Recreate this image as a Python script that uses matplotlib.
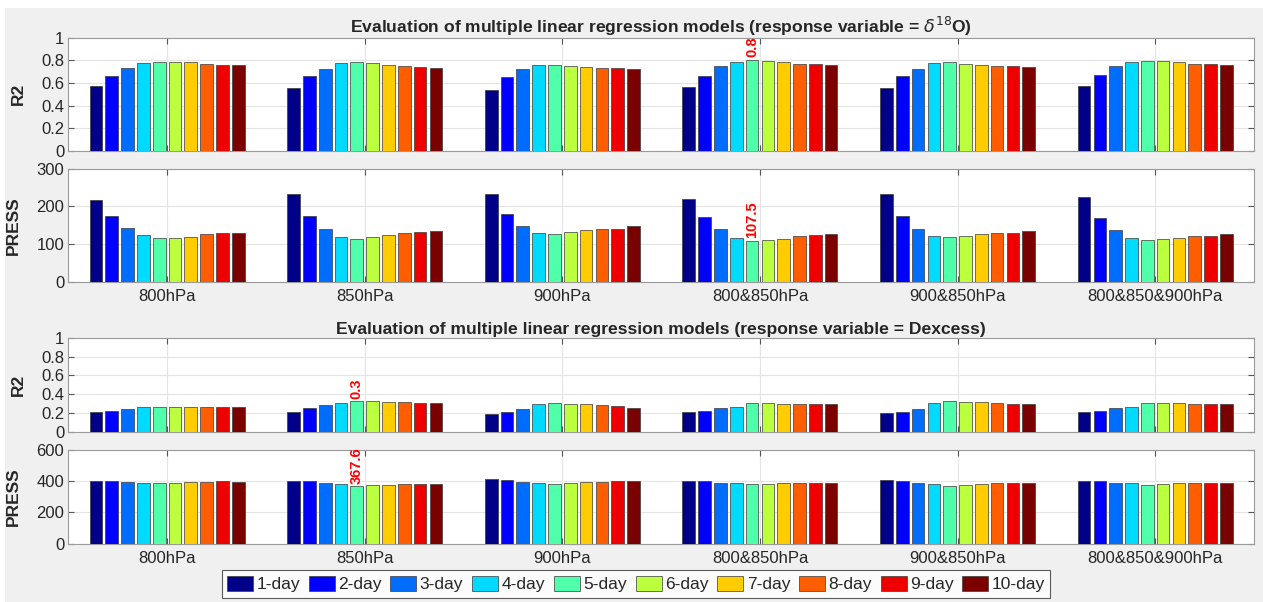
import numpy as np
import matplotlib
matplotlib.use('Agg')
import matplotlib.pyplot as plt
from matplotlib.patches import Rectangle

plt.rcParams['font.family'] = ['Liberation Sans', 'DejaVu Sans']

# levels and lag days
levels = ['800hPa', '850hPa', '900hPa', '800&850hPa', '900&850hPa', '800&850&900hPa']
days = ['1-day', '2-day', '3-day', '4-day', '5-day', '6-day', '7-day', '8-day', '9-day', '10-day']
colors = ['#000088', '#0000FF', '#006DFF', '#00DAFF', '#50FFAA', '#BBFF3F',
          '#FFCC00', '#FF5E00', '#EE0000', '#7B0000']

# d18O models
r2_d18o = [
    [0.572, 0.658, 0.735, 0.773, 0.788, 0.788, 0.785, 0.767, 0.758, 0.758],
    [0.558, 0.658, 0.726, 0.776, 0.782, 0.773, 0.761, 0.746, 0.740, 0.735],
    [0.540, 0.649, 0.720, 0.758, 0.758, 0.749, 0.740, 0.735, 0.729, 0.726],
    [0.566, 0.664, 0.746, 0.788, 0.802, 0.794, 0.788, 0.770, 0.767, 0.758],
    [0.552, 0.658, 0.726, 0.773, 0.782, 0.767, 0.758, 0.752, 0.746, 0.740],
    [0.572, 0.670, 0.746, 0.788, 0.796, 0.791, 0.782, 0.770, 0.767, 0.758],
]
press_d18o = [
    [217.7, 173.5, 143.4, 123.9, 116.8, 115.0, 118.6, 126.5, 130.0, 130.0],
    [231.9, 173.5, 140.7, 117.7, 113.3, 119.5, 123.0, 130.0, 132.7, 135.4],
    [231.9, 180.5, 146.9, 128.3, 127.4, 132.7, 138.0, 140.7, 140.7, 146.9],
    [220.4, 171.7, 138.9, 115.9, 107.5, 109.7, 114.2, 122.1, 124.8, 126.5],
    [231.9, 174.3, 140.7, 120.4, 117.7, 121.2, 125.7, 130.0, 130.0, 135.4],
    [225.7, 169.9, 137.2, 115.9, 110.6, 112.4, 115.9, 122.1, 122.1, 125.7],
]

# Dexcess models
r2_dex = [
    [0.216, 0.226, 0.244, 0.261, 0.261, 0.269, 0.269, 0.261, 0.261, 0.261],
    [0.216, 0.251, 0.290, 0.311, 0.330, 0.325, 0.322, 0.314, 0.307, 0.307],
    [0.194, 0.212, 0.244, 0.293, 0.311, 0.300, 0.293, 0.286, 0.279, 0.251],
    [0.216, 0.226, 0.251, 0.261, 0.304, 0.304, 0.300, 0.293, 0.293, 0.293],
    [0.205, 0.216, 0.244, 0.304, 0.325, 0.318, 0.314, 0.304, 0.300, 0.293],
    [0.212, 0.226, 0.251, 0.261, 0.307, 0.304, 0.304, 0.300, 0.293, 0.293],
]
press_dex = [
    [403.8, 403.8, 395.0, 388.9, 386.8, 391.0, 395.0, 397.4, 399.6, 397.4],
    [403.8, 399.6, 391.0, 382.5, 367.6, 376.0, 376.0, 382.5, 382.5, 382.5],
    [414.5, 408.0, 397.4, 388.9, 384.6, 388.9, 393.2, 397.4, 401.7, 401.7],
    [403.8, 403.8, 391.0, 386.8, 382.5, 384.6, 386.8, 391.0, 391.0, 391.0],
    [410.3, 403.8, 391.0, 382.5, 371.0, 376.0, 382.5, 386.8, 391.0, 391.0],
    [403.8, 403.8, 391.0, 386.8, 378.2, 382.5, 386.8, 386.8, 391.0, 391.0],
]

fig = plt.figure(figsize=(12.63, 6.02), dpi=100)
fig.patches.append(Rectangle((5 / 1263, 0), 1, 1 - 8 / 602, transform=fig.transFigure,
                             facecolor='#F0F0F0', edgecolor='none', zorder=-10))

left, width = 68.3 / 1263, (1254 - 68.3) / 1263


def px_axes(top, bottom):
    return fig.add_axes([left, 1 - bottom / 602, width, (bottom - top) / 602])


def draw_bars(ax, data, ymax, yticks, ylabel, labx, fmt, mark, show_x):
    data = np.array(data)
    x = np.arange(1, len(levels) + 1)
    pitch = 0.8 / len(days)
    for j in range(len(days)):
        ax.bar(x - 0.4 + pitch * (j + 0.5), data[:, j], width=pitch * 0.8,
               color=colors[j], edgecolor='#3a3a3a', linewidth=0.5, zorder=3,
               label=days[j])
    # annotate best model
    i, j = np.unravel_index(np.argmax(data) if mark == 'max' else np.argmin(data), data.shape)
    v = data[i, j]
    ax.text(x[i] - 0.4 + pitch * (j + 0.5), v + ymax * 0.025, fmt % v, color='red',
            fontsize=10.5, fontweight='bold', rotation=90, ha='center', va='bottom', zorder=5)
    ax.set_xlim(0.5, 6.5)
    ax.set_ylim(0, ymax)
    ax.set_yticks(yticks)
    ax.set_yticklabels([('%g' % t) for t in yticks])
    ax.set_xticks(x)
    ax.set_xticklabels(levels if show_x else [])
    ax.grid(True, color='#E4E4E4', linewidth=0.8, zorder=0)
    ax.tick_params(direction='in', length=4, colors='#555555', labelcolor='#262626',
                   labelsize=12, right=True, top=True, pad=3)
    ax.tick_params(axis='x', pad=5)
    for s in ax.spines.values():
        s.set_color('#9a9a9a')
        s.set_linewidth(0.8)
    ax.set_ylabel(ylabel, fontsize=12.5, fontweight='bold', color='#262626')
    ax.yaxis.set_label_coords(labx, 0.5)


ax1 = px_axes(37.7, 150.7)
draw_bars(ax1, r2_d18o, 1, [0, 0.2, 0.4, 0.6, 0.8, 1], 'R2', -0.036, '%.1f', 'max', False)
ax1.set_title(r'Evaluation of multiple linear regression models (response variable = $\delta^{18}$O)',
              fontsize=12.6, fontweight='bold', color='#262626', pad=3)

ax2 = px_axes(168.7, 281.7)
draw_bars(ax2, press_d18o, 300, [0, 100, 200, 300], 'PRESS', -0.04, '%.1f', 'min', True)

ax3 = px_axes(337.7, 432.0)
draw_bars(ax3, r2_dex, 1, [0, 0.2, 0.4, 0.6, 0.8, 1], 'R2', -0.036, '%.1f', 'max', False)
ax3.set_title('Evaluation of multiple linear regression models (response variable = Dexcess)',
              fontsize=12.6, fontweight='bold', color='#262626', pad=3)

ax4 = px_axes(450.0, 543.7)
draw_bars(ax4, press_dex, 600, [0, 200, 400, 600], 'PRESS', -0.04, '%.1f', 'min', True)

handles, labels = ax4.get_legend_handles_labels()
leg = fig.legend(handles, labels, loc='center', bbox_to_anchor=(636 / 1263, 1 - 584 / 602),
                 ncol=10, fontsize=12.5, frameon=True, fancybox=False, handlelength=1.5,
                 handleheight=1.0, handletextpad=0.2, columnspacing=0.5, borderpad=0.3,
                 borderaxespad=0)
leg.get_frame().set_edgecolor('#333333')
leg.get_frame().set_linewidth(0.8)
for t in leg.get_texts():
    t.set_color('#262626')

fig.savefig('out.png', dpi=100)
